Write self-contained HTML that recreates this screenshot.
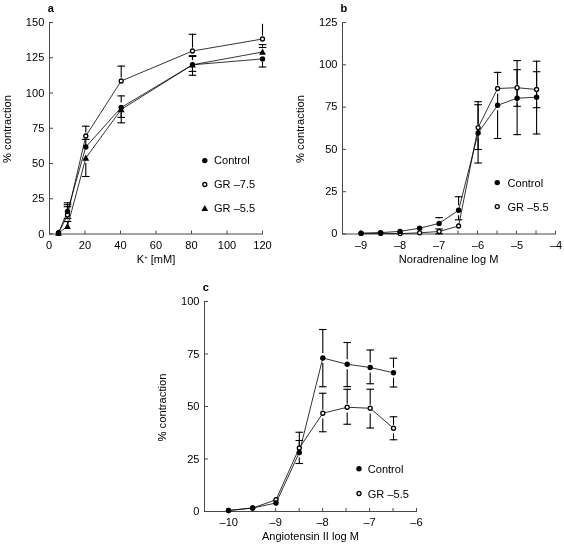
<!DOCTYPE html>
<html lang="en"><head><meta charset="utf-8"><title>Figure</title>
<style>html,body{margin:0;padding:0;background:#fff}svg{display:block;will-change:transform;filter:grayscale(1)}text{font-family:'Liberation Sans', Arial, Helvetica, sans-serif;fill:#000}</style>
</head><body>
<svg width="564" height="544" viewBox="0 0 564 544">
<rect width="564" height="544" fill="#fff"/>
<g id="panel-a">
<g stroke="#484848" stroke-width="1" fill="none">
<path d="M49.5 22V234.5M49 234H263"/>
<path d="M49.5 234h3.5M49.5 198.75h3.5M49.5 163.5h3.5M49.5 128.25h3.5M49.5 93h3.5M49.5 57.75h3.5M49.5 22.5h3.5M85 234v-3.5M120.5 234v-3.5M156 234v-3.5M191.5 234v-3.5M227 234v-3.5M262.5 234v-3.5"/>
</g>
<text transform="translate(44.3 237.7) scale(0.98 1)" text-anchor="end" font-size="11.3">0</text>
<text transform="translate(44.3 202.45) scale(0.98 1)" text-anchor="end" font-size="11.3">25</text>
<text transform="translate(44.3 167.2) scale(0.98 1)" text-anchor="end" font-size="11.3">50</text>
<text transform="translate(44.3 131.95) scale(0.98 1)" text-anchor="end" font-size="11.3">75</text>
<text transform="translate(44.3 96.7) scale(0.98 1)" text-anchor="end" font-size="11.3">100</text>
<text transform="translate(44.3 61.45) scale(0.98 1)" text-anchor="end" font-size="11.3">125</text>
<text transform="translate(44.3 26.2) scale(0.98 1)" text-anchor="end" font-size="11.3">150</text>
<text transform="translate(85 248.5) scale(0.98 1)" text-anchor="middle" font-size="11.3">20</text>
<text transform="translate(120.5 248.5) scale(0.98 1)" text-anchor="middle" font-size="11.3">40</text>
<text transform="translate(156 248.5) scale(0.98 1)" text-anchor="middle" font-size="11.3">60</text>
<text transform="translate(191.5 248.5) scale(0.98 1)" text-anchor="middle" font-size="11.3">80</text>
<text transform="translate(227 248.5) scale(0.98 1)" text-anchor="middle" font-size="11.3">100</text>
<text transform="translate(262.5 248.5) scale(0.98 1)" text-anchor="middle" font-size="11.3">120</text>
<text transform="translate(10.5 129) rotate(-90) scale(0.995 1)" text-anchor="middle" font-size="11.3">% contraction</text>
<text transform="translate(156 263.3) scale(0.98 1)" text-anchor="middle" font-size="11.3">K<tspan dy="-4" font-size="6">+</tspan><tspan dy="4"> [mM]</tspan></text>
<text transform="translate(47.7 11.5) scale(0.98 1)" font-size="11.3" font-weight="bold">a</text>
<text transform="translate(49 248.5) scale(0.98 1)" text-anchor="middle" font-size="11.3">0</text>
<polyline points="58.5,233 67.5,211.4 85.8,147 121.2,107.5 192.5,64.8 262.5,58.9" fill="none" stroke="#000" stroke-width="0.8"/>
<polyline points="58.5,233 67.5,215 85.8,136 121.2,81 192.5,51 262.5,39" fill="none" stroke="#000" stroke-width="0.8"/>
<polyline points="58.5,233 67.5,226.4 85.8,158 121.2,109.5 192.5,64.8 262.5,52" fill="none" stroke="#000" stroke-width="0.8"/>
<line x1="67.5" y1="211.4" x2="67.5" y2="202.25" stroke="#000" stroke-width="1.1"/>
<line x1="63.7" y1="202.8" x2="71.3" y2="202.8" stroke="#000" stroke-width="1.1"/>
<line x1="67.5" y1="215" x2="67.5" y2="204.15" stroke="#000" stroke-width="1.1"/>
<line x1="63.7" y1="204.7" x2="71.3" y2="204.7" stroke="#000" stroke-width="1.1"/>
<line x1="67.5" y1="211.4" x2="67.5" y2="206.15" stroke="#000" stroke-width="1.1"/>
<line x1="63.7" y1="206.7" x2="71.3" y2="206.7" stroke="#000" stroke-width="1.1"/>
<line x1="67.5" y1="215" x2="67.5" y2="219.15" stroke="#000" stroke-width="1.1"/>
<line x1="63.7" y1="218.6" x2="71.3" y2="218.6" stroke="#000" stroke-width="1.1"/>
<line x1="67.5" y1="226.4" x2="67.5" y2="220.95" stroke="#000" stroke-width="1.1"/>
<line x1="63.7" y1="221.5" x2="71.3" y2="221.5" stroke="#000" stroke-width="1.1"/>
<line x1="85.8" y1="132.6" x2="85.8" y2="125.65" stroke="#000" stroke-width="1.1"/>
<line x1="82" y1="126.2" x2="89.6" y2="126.2" stroke="#000" stroke-width="1.1"/>
<line x1="85.8" y1="147" x2="85.8" y2="138.85" stroke="#000" stroke-width="1.1"/>
<line x1="82" y1="139.4" x2="89.6" y2="139.4" stroke="#000" stroke-width="1.1"/>
<line x1="85.8" y1="163" x2="85.8" y2="177.05" stroke="#000" stroke-width="1.1"/>
<line x1="82" y1="176.5" x2="89.6" y2="176.5" stroke="#000" stroke-width="1.1"/>
<line x1="121.2" y1="77.6" x2="121.2" y2="65.55" stroke="#000" stroke-width="1.1"/>
<line x1="117.4" y1="66.1" x2="125" y2="66.1" stroke="#000" stroke-width="1.1"/>
<line x1="121.2" y1="102.5" x2="121.2" y2="95.35" stroke="#000" stroke-width="1.1"/>
<line x1="117.4" y1="95.9" x2="125" y2="95.9" stroke="#000" stroke-width="1.1"/>
<line x1="121.2" y1="112.5" x2="121.2" y2="117.95" stroke="#000" stroke-width="1.1"/>
<line x1="117.4" y1="117.4" x2="125" y2="117.4" stroke="#000" stroke-width="1.1"/>
<line x1="121.2" y1="109.5" x2="121.2" y2="123.35" stroke="#000" stroke-width="1.1"/>
<line x1="117.4" y1="122.8" x2="125" y2="122.8" stroke="#000" stroke-width="1.1"/>
<line x1="192.5" y1="47.6" x2="192.5" y2="33.75" stroke="#000" stroke-width="1.1"/>
<line x1="188.7" y1="34.3" x2="196.3" y2="34.3" stroke="#000" stroke-width="1.1"/>
<line x1="192.5" y1="60" x2="192.5" y2="55.05" stroke="#000" stroke-width="1.1"/>
<line x1="188.7" y1="55.6" x2="196.3" y2="55.6" stroke="#000" stroke-width="1.1"/>
<line x1="192.5" y1="60" x2="192.5" y2="55.95" stroke="#000" stroke-width="1.1"/>
<line x1="188.7" y1="56.5" x2="196.3" y2="56.5" stroke="#000" stroke-width="1.1"/>
<line x1="192.5" y1="70" x2="192.5" y2="71.95" stroke="#000" stroke-width="1.1"/>
<line x1="188.7" y1="71.4" x2="196.3" y2="71.4" stroke="#000" stroke-width="1.1"/>
<line x1="192.5" y1="65" x2="192.5" y2="75.85" stroke="#000" stroke-width="1.1"/>
<line x1="188.7" y1="75.3" x2="196.3" y2="75.3" stroke="#000" stroke-width="1.1"/>
<line x1="262.5" y1="35.6" x2="262.5" y2="23.8" stroke="#000" stroke-width="1.1"/>
<line x1="262.5" y1="46.8" x2="262.5" y2="44.05" stroke="#000" stroke-width="1.1"/>
<line x1="258.7" y1="44.6" x2="266.3" y2="44.6" stroke="#000" stroke-width="1.1"/>
<line x1="258.7" y1="47.5" x2="266.3" y2="47.5" stroke="#000" stroke-width="1.1"/>
<line x1="262.5" y1="61.8" x2="262.5" y2="67.55" stroke="#000" stroke-width="1.1"/>
<line x1="258.7" y1="67" x2="266.3" y2="67" stroke="#000" stroke-width="1.1"/>
<circle cx="58.5" cy="233" r="2.0" fill="#fff" stroke="#000" stroke-width="1.3"/>
<circle cx="67.5" cy="215" r="2.0" fill="#fff" stroke="#000" stroke-width="1.3"/>
<circle cx="85.8" cy="136" r="2.0" fill="#fff" stroke="#000" stroke-width="1.3"/>
<circle cx="121.2" cy="81" r="2.0" fill="#fff" stroke="#000" stroke-width="1.3"/>
<circle cx="192.5" cy="51" r="2.0" fill="#fff" stroke="#000" stroke-width="1.3"/>
<circle cx="262.5" cy="39" r="2.0" fill="#fff" stroke="#000" stroke-width="1.3"/>
<circle cx="58.5" cy="233" r="2.7"/>
<circle cx="67.5" cy="211.4" r="2.7"/>
<circle cx="85.8" cy="147" r="2.7"/>
<circle cx="121.2" cy="107.5" r="2.7"/>
<circle cx="192.5" cy="64.8" r="2.7"/>
<circle cx="262.5" cy="58.9" r="2.7"/>
<polygon points="58.5,229.6 55.1,235.72 61.9,235.72"/>
<polygon points="67.5,223 64.1,229.12 70.9,229.12"/>
<polygon points="85.8,154.6 82.4,160.72 89.2,160.72"/>
<polygon points="121.2,106.1 117.8,112.22 124.6,112.22"/>
<polygon points="192.5,61.4 189.1,67.52 195.9,67.52"/>
<polygon points="262.5,48.6 259.1,54.72 265.9,54.72"/>
<circle cx="204.8" cy="160.6" r="2.7"/>
<text transform="translate(214 164.3) scale(0.98 1)" font-size="11.3">Control</text>
<circle cx="204.8" cy="184.5" r="2.0" fill="#fff" stroke="#000" stroke-width="1.3"/>
<text transform="translate(214 188.2) scale(0.98 1)" font-size="11.3">GR –7.5</text>
<polygon points="204.8,204.9 201.4,211.02 208.2,211.02"/>
<text transform="translate(214 212.1) scale(0.98 1)" font-size="11.3">GR –5.5</text>
</g>
<g id="panel-b">
<g stroke="#484848" stroke-width="1" fill="none">
<path d="M342.5 22V234.5M342 234H556"/>
<path d="M342.5 234h3.5M342.5 191.7h3.5M342.5 149.4h3.5M342.5 107.1h3.5M342.5 64.8h3.5M342.5 22.5h3.5M360.5 234v-3.5M380 234v-3.5M399.5 234v-3.5M419 234v-3.5M438.5 234v-3.5M458 234v-3.5M477.5 234v-3.5M497 234v-3.5M516.5 234v-3.5M536 234v-3.5M555.5 234v-3.5"/>
</g>
<text transform="translate(337.5 237.2) scale(0.98 1)" text-anchor="end" font-size="11.3">0</text>
<text transform="translate(337.5 194.9) scale(0.98 1)" text-anchor="end" font-size="11.3">25</text>
<text transform="translate(337.5 152.6) scale(0.98 1)" text-anchor="end" font-size="11.3">50</text>
<text transform="translate(337.5 110.3) scale(0.98 1)" text-anchor="end" font-size="11.3">75</text>
<text transform="translate(337.5 68) scale(0.98 1)" text-anchor="end" font-size="11.3">100</text>
<text transform="translate(337.5 25.7) scale(0.98 1)" text-anchor="end" font-size="11.3">125</text>
<text transform="translate(361.1 248.5) scale(0.98 1)" text-anchor="middle" font-size="11.3">–9</text>
<text transform="translate(400.1 248.5) scale(0.98 1)" text-anchor="middle" font-size="11.3">–8</text>
<text transform="translate(439.1 248.5) scale(0.98 1)" text-anchor="middle" font-size="11.3">–7</text>
<text transform="translate(478.1 248.5) scale(0.98 1)" text-anchor="middle" font-size="11.3">–6</text>
<text transform="translate(517.1 248.5) scale(0.98 1)" text-anchor="middle" font-size="11.3">–5</text>
<text transform="translate(556.1 248.5) scale(0.98 1)" text-anchor="middle" font-size="11.3">–4</text>
<text transform="translate(304 129) rotate(-90) scale(0.995 1)" text-anchor="middle" font-size="11.3">% contraction</text>
<text transform="translate(448.6 263.1) scale(0.98 1)" text-anchor="middle" font-size="11.3">Noradrenaline log M</text>
<text transform="translate(340.6 11.5) scale(0.98 1)" font-size="11.3" font-weight="bold">b</text>
<polyline points="361.1,233.2 380.6,232.6 400.1,231.4 419.6,228.2 439.1,223.4 458.6,210.25 478.1,133 497.6,105.3 517.1,98.2 536.6,97.2" fill="none" stroke="#000" stroke-width="0.8"/>
<polyline points="361.1,233.4 380.6,233.4 400.1,233.6 419.6,232.8 439.1,231.5 458.6,226 478.1,127.6 497.6,88.5 517.1,87.7 536.6,89.5" fill="none" stroke="#000" stroke-width="0.8"/>
<line x1="439.1" y1="218.4" x2="439.1" y2="217.05" stroke="#000" stroke-width="1.1"/>
<line x1="435.3" y1="217.6" x2="442.9" y2="217.6" stroke="#000" stroke-width="1.1"/>
<line x1="439.1" y1="231.5" x2="439.1" y2="228.45" stroke="#000" stroke-width="1.1"/>
<line x1="435.3" y1="229" x2="442.9" y2="229" stroke="#000" stroke-width="1.1"/>
<line x1="439.1" y1="231.5" x2="439.1" y2="234.35" stroke="#000" stroke-width="1.1"/>
<line x1="435.3" y1="233.8" x2="442.9" y2="233.8" stroke="#000" stroke-width="1.1"/>
<line x1="458.6" y1="205.25" x2="458.6" y2="196.2" stroke="#000" stroke-width="1.1"/>
<line x1="454.8" y1="196.75" x2="462.4" y2="196.75" stroke="#000" stroke-width="1.1"/>
<line x1="458.6" y1="215.25" x2="458.6" y2="220.35" stroke="#000" stroke-width="1.1"/>
<line x1="454.8" y1="219.8" x2="462.4" y2="219.8" stroke="#000" stroke-width="1.1"/>
<line x1="478.1" y1="124.2" x2="478.1" y2="101.15" stroke="#000" stroke-width="1.1"/>
<line x1="474.3" y1="101.7" x2="481.9" y2="101.7" stroke="#000" stroke-width="1.1"/>
<line x1="478.1" y1="133" x2="478.1" y2="104.15" stroke="#000" stroke-width="1.1"/>
<line x1="474.3" y1="104.7" x2="481.9" y2="104.7" stroke="#000" stroke-width="1.1"/>
<line x1="478.1" y1="127.6" x2="478.1" y2="150.05" stroke="#000" stroke-width="1.1"/>
<line x1="474.3" y1="149.5" x2="481.9" y2="149.5" stroke="#000" stroke-width="1.1"/>
<line x1="478.1" y1="138" x2="478.1" y2="163.55" stroke="#000" stroke-width="1.1"/>
<line x1="474.3" y1="163" x2="481.9" y2="163" stroke="#000" stroke-width="1.1"/>
<line x1="497.6" y1="85.1" x2="497.6" y2="71.85" stroke="#000" stroke-width="1.1"/>
<line x1="493.8" y1="72.4" x2="501.4" y2="72.4" stroke="#000" stroke-width="1.1"/>
<line x1="497.6" y1="93.7" x2="497.6" y2="105.3" stroke="#000" stroke-width="1.1"/>
<line x1="497.6" y1="110.3" x2="497.6" y2="139.05" stroke="#000" stroke-width="1.1"/>
<line x1="493.8" y1="138.5" x2="501.4" y2="138.5" stroke="#000" stroke-width="1.1"/>
<line x1="517.1" y1="84.3" x2="517.1" y2="60.05" stroke="#000" stroke-width="1.1"/>
<line x1="513.3" y1="60.6" x2="520.9" y2="60.6" stroke="#000" stroke-width="1.1"/>
<line x1="517.1" y1="98.2" x2="517.1" y2="69.15" stroke="#000" stroke-width="1.1"/>
<line x1="513.3" y1="69.7" x2="520.9" y2="69.7" stroke="#000" stroke-width="1.1"/>
<line x1="517.1" y1="87.7" x2="517.1" y2="106.85" stroke="#000" stroke-width="1.1"/>
<line x1="513.3" y1="106.3" x2="520.9" y2="106.3" stroke="#000" stroke-width="1.1"/>
<line x1="517.1" y1="103.2" x2="517.1" y2="135.15" stroke="#000" stroke-width="1.1"/>
<line x1="513.3" y1="134.6" x2="520.9" y2="134.6" stroke="#000" stroke-width="1.1"/>
<line x1="536.6" y1="86.1" x2="536.6" y2="60.65" stroke="#000" stroke-width="1.1"/>
<line x1="532.8" y1="61.2" x2="540.4" y2="61.2" stroke="#000" stroke-width="1.1"/>
<line x1="536.6" y1="97.2" x2="536.6" y2="71.15" stroke="#000" stroke-width="1.1"/>
<line x1="532.8" y1="71.7" x2="540.4" y2="71.7" stroke="#000" stroke-width="1.1"/>
<line x1="536.6" y1="89.5" x2="536.6" y2="108.25" stroke="#000" stroke-width="1.1"/>
<line x1="532.8" y1="107.7" x2="540.4" y2="107.7" stroke="#000" stroke-width="1.1"/>
<line x1="536.6" y1="102.2" x2="536.6" y2="134.55" stroke="#000" stroke-width="1.1"/>
<line x1="532.8" y1="134" x2="540.4" y2="134" stroke="#000" stroke-width="1.1"/>
<circle cx="361.1" cy="233.4" r="2.0" fill="#fff" stroke="#000" stroke-width="1.3"/>
<circle cx="380.6" cy="233.4" r="2.0" fill="#fff" stroke="#000" stroke-width="1.3"/>
<circle cx="400.1" cy="233.6" r="2.0" fill="#fff" stroke="#000" stroke-width="1.3"/>
<circle cx="419.6" cy="232.8" r="2.0" fill="#fff" stroke="#000" stroke-width="1.3"/>
<circle cx="439.1" cy="231.5" r="2.0" fill="#fff" stroke="#000" stroke-width="1.3"/>
<circle cx="458.6" cy="226" r="2.0" fill="#fff" stroke="#000" stroke-width="1.3"/>
<circle cx="478.1" cy="127.6" r="2.0" fill="#fff" stroke="#000" stroke-width="1.3"/>
<circle cx="497.6" cy="88.5" r="2.0" fill="#fff" stroke="#000" stroke-width="1.3"/>
<circle cx="517.1" cy="87.7" r="2.0" fill="#fff" stroke="#000" stroke-width="1.3"/>
<circle cx="536.6" cy="89.5" r="2.0" fill="#fff" stroke="#000" stroke-width="1.3"/>
<circle cx="361.1" cy="233.2" r="2.7"/>
<circle cx="380.6" cy="232.6" r="2.7"/>
<circle cx="400.1" cy="231.4" r="2.7"/>
<circle cx="419.6" cy="228.2" r="2.7"/>
<circle cx="439.1" cy="223.4" r="2.7"/>
<circle cx="458.6" cy="210.25" r="2.7"/>
<circle cx="478.1" cy="133" r="2.7"/>
<circle cx="497.6" cy="105.3" r="2.7"/>
<circle cx="517.1" cy="98.2" r="2.7"/>
<circle cx="536.6" cy="97.2" r="2.7"/>
<circle cx="497.25" cy="182.6" r="2.7"/>
<text transform="translate(507.5 186.8) scale(0.98 1)" font-size="11.3">Control</text>
<circle cx="497.25" cy="206.6" r="2.0" fill="#fff" stroke="#000" stroke-width="1.3"/>
<text transform="translate(507.5 210.9) scale(0.98 1)" font-size="11.3">GR –5.5</text>
</g>
<g id="panel-c">
<g stroke="#484848" stroke-width="1" fill="none">
<path d="M204.5 301V512M204 511.5H417"/>
<path d="M204.5 511.5h3.5M204.5 459h3.5M204.5 406.5h3.5M204.5 354h3.5M204.5 301.5h3.5M228.7 511.5v-3.5M252.17 511.5v-3.5M275.65 511.5v-3.5M299.12 511.5v-3.5M322.6 511.5v-3.5M346.07 511.5v-3.5M369.55 511.5v-3.5M393.02 511.5v-3.5M416.5 511.5v-3.5"/>
</g>
<text transform="translate(199.5 515.2) scale(0.98 1)" text-anchor="end" font-size="11.3">0</text>
<text transform="translate(199.5 462.7) scale(0.98 1)" text-anchor="end" font-size="11.3">25</text>
<text transform="translate(199.5 410.2) scale(0.98 1)" text-anchor="end" font-size="11.3">50</text>
<text transform="translate(199.5 357.7) scale(0.98 1)" text-anchor="end" font-size="11.3">75</text>
<text transform="translate(199.5 305.2) scale(0.98 1)" text-anchor="end" font-size="11.3">100</text>
<text transform="translate(228.7 525.5) scale(0.98 1)" text-anchor="middle" font-size="11.3">–10</text>
<text transform="translate(275.65 525.5) scale(0.98 1)" text-anchor="middle" font-size="11.3">–9</text>
<text transform="translate(322.6 525.5) scale(0.98 1)" text-anchor="middle" font-size="11.3">–8</text>
<text transform="translate(369.55 525.5) scale(0.98 1)" text-anchor="middle" font-size="11.3">–7</text>
<text transform="translate(416.5 525.5) scale(0.98 1)" text-anchor="middle" font-size="11.3">–6</text>
<text transform="translate(165.5 407.5) rotate(-90) scale(0.995 1)" text-anchor="middle" font-size="11.3">% contraction</text>
<text transform="translate(310.5 539.8) scale(0.98 1)" text-anchor="middle" font-size="11.3">Angiotensin II log M</text>
<text transform="translate(202.7 290.8) scale(0.98 1)" font-size="11.3" font-weight="bold">c</text>
<polyline points="228.5,510.5 252.7,508 276,503 299.3,452.5 322.8,358 347.2,364.25 370.2,367.5 393.5,372.75" fill="none" stroke="#000" stroke-width="0.8"/>
<polyline points="228.5,510.5 252.7,508 276,499.75 299.3,448 322.8,413.25 347.2,407.25 370.2,408.25 393.5,428.25" fill="none" stroke="#000" stroke-width="0.8"/>
<line x1="299.3" y1="444.6" x2="299.3" y2="431.7" stroke="#000" stroke-width="1.1"/>
<line x1="295.5" y1="432.25" x2="303.1" y2="432.25" stroke="#000" stroke-width="1.1"/>
<line x1="299.3" y1="452.5" x2="299.3" y2="439.95" stroke="#000" stroke-width="1.1"/>
<line x1="295.5" y1="440.5" x2="303.1" y2="440.5" stroke="#000" stroke-width="1.1"/>
<line x1="299.3" y1="457.5" x2="299.3" y2="464.05" stroke="#000" stroke-width="1.1"/>
<line x1="295.5" y1="463.5" x2="303.1" y2="463.5" stroke="#000" stroke-width="1.1"/>
<line x1="322.8" y1="353" x2="322.8" y2="328.95" stroke="#000" stroke-width="1.1"/>
<line x1="319" y1="329.5" x2="326.6" y2="329.5" stroke="#000" stroke-width="1.1"/>
<line x1="322.8" y1="363" x2="322.8" y2="387.3" stroke="#000" stroke-width="1.1"/>
<line x1="319" y1="386.75" x2="326.6" y2="386.75" stroke="#000" stroke-width="1.1"/>
<line x1="322.8" y1="409.85" x2="322.8" y2="392.7" stroke="#000" stroke-width="1.1"/>
<line x1="319" y1="393.25" x2="326.6" y2="393.25" stroke="#000" stroke-width="1.1"/>
<line x1="322.8" y1="418.45" x2="322.8" y2="432.3" stroke="#000" stroke-width="1.1"/>
<line x1="319" y1="431.75" x2="326.6" y2="431.75" stroke="#000" stroke-width="1.1"/>
<line x1="347.2" y1="359.25" x2="347.2" y2="341.95" stroke="#000" stroke-width="1.1"/>
<line x1="343.4" y1="342.5" x2="351" y2="342.5" stroke="#000" stroke-width="1.1"/>
<line x1="347.2" y1="369.25" x2="347.2" y2="387.15" stroke="#000" stroke-width="1.1"/>
<line x1="343.4" y1="386.6" x2="351" y2="386.6" stroke="#000" stroke-width="1.1"/>
<line x1="347.2" y1="403.85" x2="347.2" y2="388.75" stroke="#000" stroke-width="1.1"/>
<line x1="343.4" y1="389.3" x2="351" y2="389.3" stroke="#000" stroke-width="1.1"/>
<line x1="347.2" y1="412.45" x2="347.2" y2="424.8" stroke="#000" stroke-width="1.1"/>
<line x1="343.4" y1="424.25" x2="351" y2="424.25" stroke="#000" stroke-width="1.1"/>
<line x1="370.2" y1="362.5" x2="370.2" y2="349.45" stroke="#000" stroke-width="1.1"/>
<line x1="366.4" y1="350" x2="374" y2="350" stroke="#000" stroke-width="1.1"/>
<line x1="370.2" y1="372.5" x2="370.2" y2="384.3" stroke="#000" stroke-width="1.1"/>
<line x1="366.4" y1="383.75" x2="374" y2="383.75" stroke="#000" stroke-width="1.1"/>
<line x1="370.2" y1="404.85" x2="370.2" y2="388.7" stroke="#000" stroke-width="1.1"/>
<line x1="366.4" y1="389.25" x2="374" y2="389.25" stroke="#000" stroke-width="1.1"/>
<line x1="370.2" y1="413.45" x2="370.2" y2="428.55" stroke="#000" stroke-width="1.1"/>
<line x1="366.4" y1="428" x2="374" y2="428" stroke="#000" stroke-width="1.1"/>
<line x1="393.5" y1="367.75" x2="393.5" y2="357.7" stroke="#000" stroke-width="1.1"/>
<line x1="389.7" y1="358.25" x2="397.3" y2="358.25" stroke="#000" stroke-width="1.1"/>
<line x1="393.5" y1="377.75" x2="393.5" y2="387.55" stroke="#000" stroke-width="1.1"/>
<line x1="389.7" y1="387" x2="397.3" y2="387" stroke="#000" stroke-width="1.1"/>
<line x1="393.5" y1="424.85" x2="393.5" y2="416.2" stroke="#000" stroke-width="1.1"/>
<line x1="389.7" y1="416.75" x2="397.3" y2="416.75" stroke="#000" stroke-width="1.1"/>
<line x1="393.5" y1="433.45" x2="393.5" y2="440.3" stroke="#000" stroke-width="1.1"/>
<line x1="389.7" y1="439.75" x2="397.3" y2="439.75" stroke="#000" stroke-width="1.1"/>
<circle cx="228.5" cy="510.5" r="2.0" fill="#fff" stroke="#000" stroke-width="1.3"/>
<circle cx="252.7" cy="508" r="2.0" fill="#fff" stroke="#000" stroke-width="1.3"/>
<circle cx="276" cy="499.75" r="2.0" fill="#fff" stroke="#000" stroke-width="1.3"/>
<circle cx="299.3" cy="448" r="2.0" fill="#fff" stroke="#000" stroke-width="1.3"/>
<circle cx="322.8" cy="413.25" r="2.0" fill="#fff" stroke="#000" stroke-width="1.3"/>
<circle cx="347.2" cy="407.25" r="2.0" fill="#fff" stroke="#000" stroke-width="1.3"/>
<circle cx="370.2" cy="408.25" r="2.0" fill="#fff" stroke="#000" stroke-width="1.3"/>
<circle cx="393.5" cy="428.25" r="2.0" fill="#fff" stroke="#000" stroke-width="1.3"/>
<circle cx="228.5" cy="510.5" r="2.7"/>
<circle cx="252.7" cy="508" r="2.7"/>
<circle cx="276" cy="503" r="2.7"/>
<circle cx="299.3" cy="452.5" r="2.7"/>
<circle cx="322.8" cy="358" r="2.7"/>
<circle cx="347.2" cy="364.25" r="2.7"/>
<circle cx="370.2" cy="367.5" r="2.7"/>
<circle cx="393.5" cy="372.75" r="2.7"/>
<circle cx="359" cy="468.75" r="2.7"/>
<text transform="translate(367.75 472.8) scale(0.98 1)" font-size="11.3">Control</text>
<circle cx="359" cy="493.5" r="2.0" fill="#fff" stroke="#000" stroke-width="1.3"/>
<text transform="translate(367.75 497.5) scale(0.98 1)" font-size="11.3">GR –5.5</text>
</g>
</svg>
</body></html>
